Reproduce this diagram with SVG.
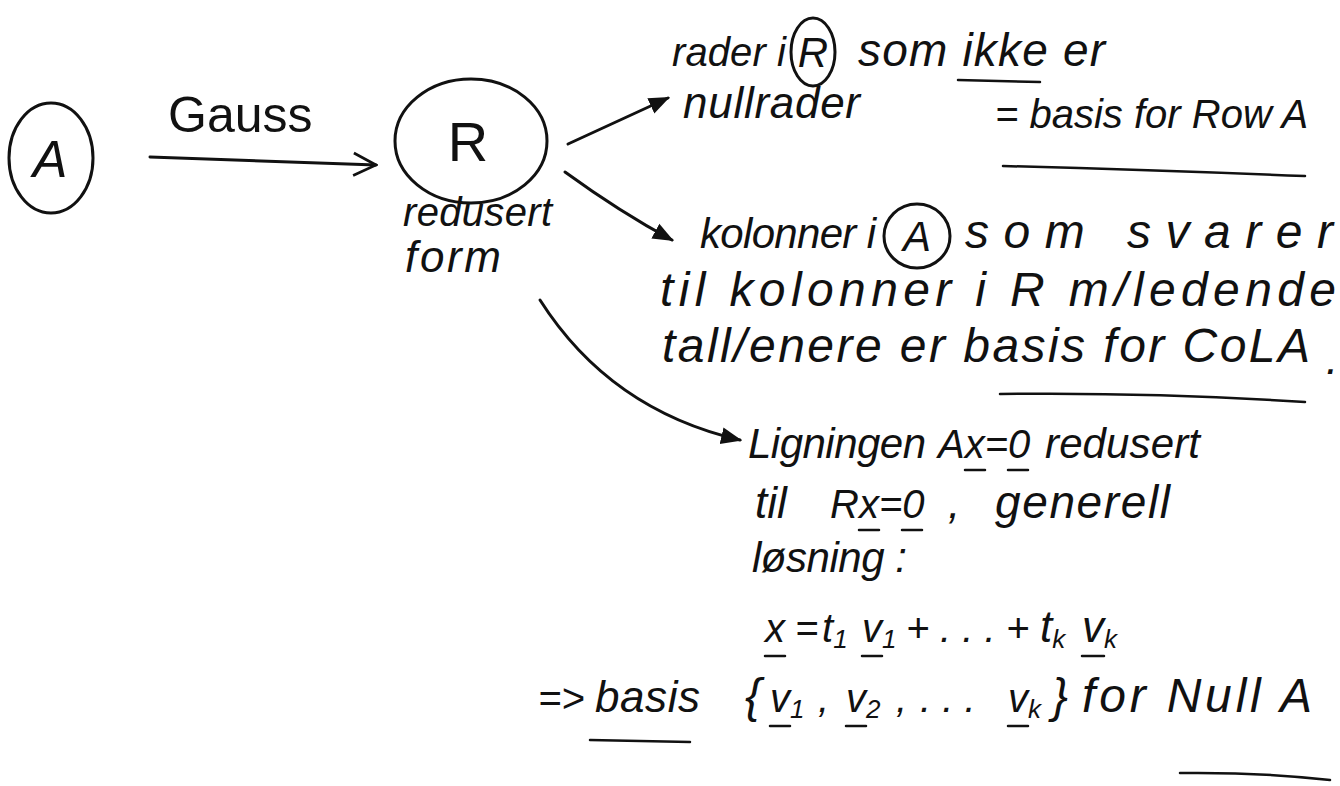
<svg xmlns="http://www.w3.org/2000/svg" width="1340" height="786" viewBox="0 0 1340 786">
<style>
.t{font-family:"Liberation Sans",Arial,sans-serif;font-style:italic;font-size:44px;fill:#111}
.n{font-family:"Liberation Sans",Arial,sans-serif;font-size:50px;fill:#111}
.s{font-size:26px}
.ln{fill:none;stroke:#111;stroke-width:3;stroke-linecap:round}
.ul{fill:none;stroke:#111;stroke-width:2.5;stroke-linecap:round}
</style>
<defs>
<marker id="fh" viewBox="0 0 10 10" refX="9" refY="5" markerWidth="7" markerHeight="7" orient="auto" markerUnits="strokeWidth">
<path d="M0,1 L10,5 L0,9 z" fill="#111"/>
</marker>
<marker id="oh" viewBox="0 0 12 12" refX="11" refY="6" markerWidth="9" markerHeight="9" orient="auto" markerUnits="strokeWidth">
<path d="M1,1 L11,6 L1,11" fill="none" stroke="#111" stroke-width="1.2"/>
</marker>
</defs>
<g id="node-A">
<ellipse cx="51" cy="158" rx="42" ry="55" class="ln"/>
<text x="50" y="177" class="t" style="font-size:52px" text-anchor="middle">A</text>
</g>
<g id="label-gauss">
<text x="168" y="132" class="n">Gauss</text>
</g>
<g id="node-R">
<ellipse cx="471" cy="141" rx="76" ry="62" class="ln"/>
<text x="468" y="161" class="n" style="font-size:56px" text-anchor="middle">R</text>
<text x="403" y="226" class="t" style="font-size:40px" textLength="149" lengthAdjust="spacing">redusert</text>
<text x="405" y="272" class="t" textLength="96" lengthAdjust="spacing">form</text>
</g>
<g id="node-row">
<text x="672" y="66" class="t" style="font-size:40px" textLength="114" lengthAdjust="spacing">rader i</text>
<ellipse cx="813" cy="52" rx="22" ry="34" class="ln"/>
<text x="813" y="67" class="t" style="font-size:42px" text-anchor="middle">R</text>
<text x="858" y="66" class="t" style="font-size:46px" textLength="247" lengthAdjust="spacing">som ikke er</text>
<path d="M958 80 L1040 82" class="ul"/>
<text x="683" y="118" class="t" textLength="177" lengthAdjust="spacing">nullrader</text>
<text x="995" y="128" class="t" style="font-size:40px">= basis for Row A</text>
<path d="M1003 166 Q1150 170 1305 176" class="ul"/>
</g>
<g id="node-col">
<text x="700" y="248" class="t" style="font-size:42px" textLength="176" lengthAdjust="spacing">kolonner i</text>
<ellipse cx="917" cy="236" rx="33" ry="32" class="ln"/>
<text x="917" y="251" class="t" style="font-size:42px" text-anchor="middle">A</text>
<text x="965" y="248" class="t" style="font-size:48px" textLength="368" lengthAdjust="spacing">som svarer</text>
<text x="660" y="306" class="t" style="font-size:48px" textLength="676" lengthAdjust="spacing">til kolonner i R m/ledende</text>
<text x="662" y="362" class="t" style="font-size:48px" textLength="648" lengthAdjust="spacing">tall/enere er basis for CoLA</text>
<text x="1326" y="374" class="t">.</text>
<path d="M1000 394 Q1150 392 1305 402" class="ul"/>
</g>
<g id="node-null">
<text x="748" y="458" class="t" style="font-size:42px" textLength="178" lengthAdjust="spacing">Ligningen</text>
<text x="938" y="458" class="t" style="font-size:40px">Ax=0</text>
<path d="M965 470 L985 470 M1008 470 L1028 470" class="ul"/>
<text x="1045" y="458" class="t" style="font-size:42px" textLength="155" lengthAdjust="spacing">redusert</text>
<text x="755" y="518" class="t">til</text>
<text x="830" y="518" class="t" style="font-size:40px">Rx=0</text>
<path d="M859 530 L879 530 M902 530 L922 530" class="ul"/>
<text x="948" y="518" class="t">,</text>
<text x="995" y="518" class="t" style="font-size:46px" textLength="175" lengthAdjust="spacing">generell</text>
<text x="752" y="572" class="t" style="font-size:42px" textLength="155" lengthAdjust="spacing">løsning :</text>
<text x="765" y="642" class="t" style="font-size:40px">x</text>
<text x="795" y="642" class="t" style="font-size:40px">=</text>
<text x="822" y="642" class="t" style="font-size:40px">t<tspan class="s" dy="6">1</tspan></text>
<text x="862" y="642" class="t" style="font-size:40px">v<tspan class="s" dy="6">1</tspan></text>
<text x="906" y="642" class="t" style="font-size:40px">+</text>
<text x="940" y="642" class="t" style="font-size:40px">. . .</text>
<text x="1006" y="642" class="t" style="font-size:40px">+</text>
<text x="1040" y="642" class="t" style="font-size:44px">t<tspan class="s" dy="6">k</tspan></text>
<text x="1082" y="642" class="t" style="font-size:44px">v<tspan class="s" dy="6">k</tspan></text>
<path d="M765 656 L785 656 M862 656 L882 656 M1082 656 L1104 656" class="ul"/>
<text x="538" y="712" class="t" style="font-size:40px">=&gt;</text>
<text x="595" y="712" class="t" textLength="105" lengthAdjust="spacing">basis</text>
<path d="M590 740 L690 742" class="ul"/>
<text x="745" y="712" class="t" style="font-size:48px">{</text>
<text x="770" y="712" class="t" style="font-size:40px">v<tspan class="s" dy="6">1</tspan></text>
<text x="818" y="712" class="t" style="font-size:40px">,</text>
<text x="846" y="712" class="t" style="font-size:40px">v<tspan class="s" dy="6">2</tspan></text>
<text x="896" y="712" class="t" style="font-size:40px">,</text>
<text x="920" y="712" class="t" style="font-size:40px">. . .</text>
<text x="1008" y="712" class="t" style="font-size:40px">v<tspan class="s" dy="6">k</tspan></text>
<path d="M770 726 L790 726 M846 726 L866 726 M1008 726 L1028 726" class="ul"/>
<text x="1052" y="712" class="t" style="font-size:48px">}</text>
<text x="1082" y="712" class="t" style="font-size:48px" textLength="230" lengthAdjust="spacing">for Null A</text>
<path d="M1180 773 Q1260 772 1330 780" class="ul"/>
</g>
<g id="connectors">
<path d="M150 157 L376 165" class="ln" marker-end="url(#oh)"/>
<path d="M568 144 L668 98" class="ln" marker-end="url(#fh)"/>
<path d="M565 172 Q620 212 672 240" class="ln" marker-end="url(#fh)"/>
<path d="M540 300 Q610 410 740 440" class="ln" marker-end="url(#fh)"/>
</g>
</svg>
